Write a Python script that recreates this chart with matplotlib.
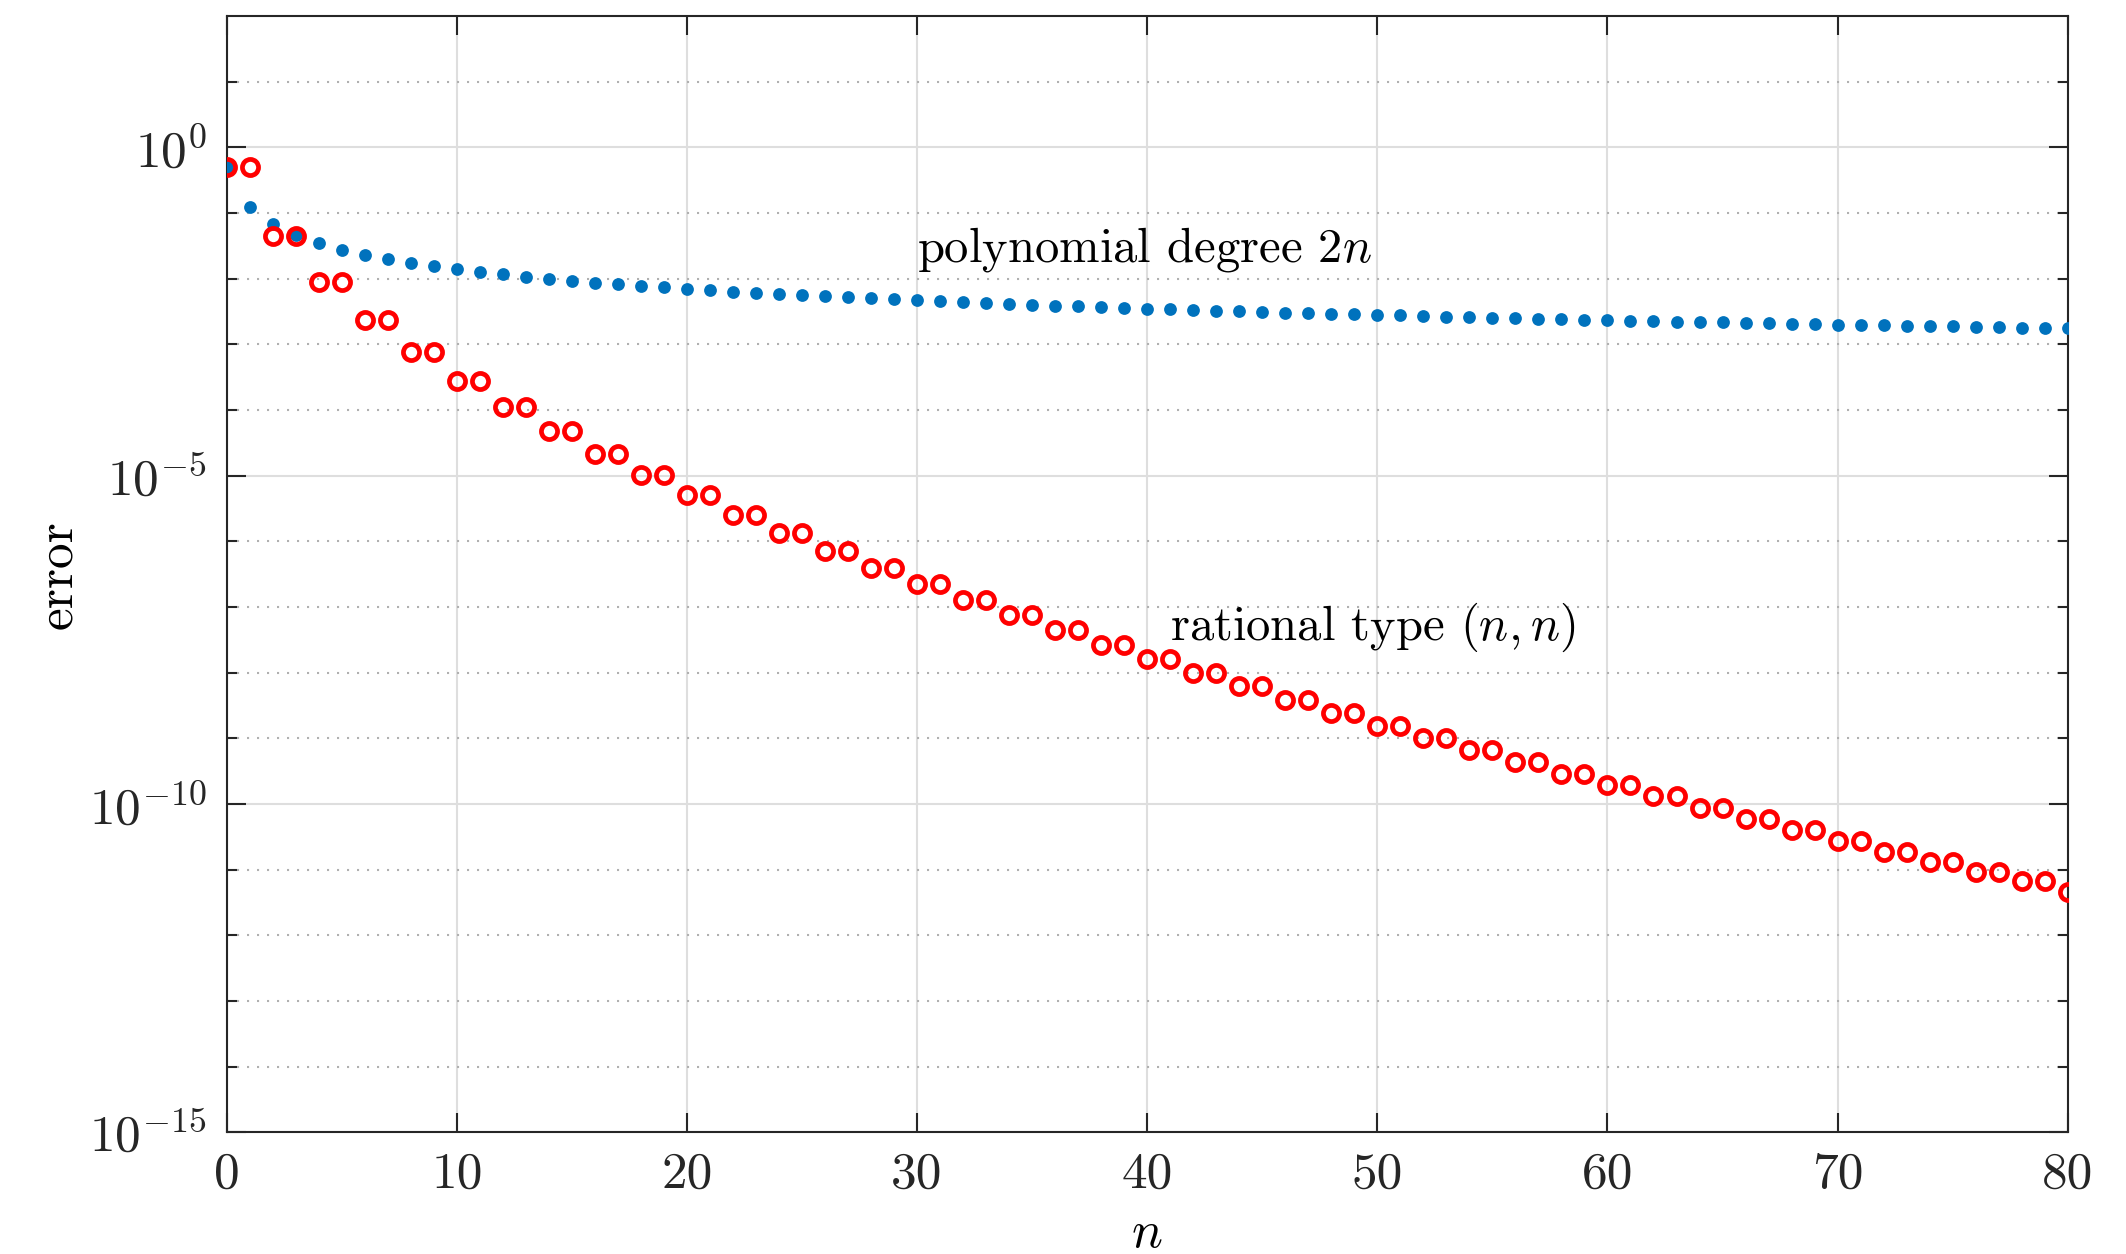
import matplotlib
matplotlib.use("Agg")
import matplotlib.pyplot as plt
from matplotlib.ticker import FixedLocator, NullFormatter

# best approximation errors for |x| on [-1, 1]
n_vals = list(range(0, 81))

poly_err = [
    0.5, 0.125, 0.0683, 0.0459, 0.0346, 0.0277, 0.0232, 0.0199, 0.0174, 0.0155,
    0.0139, 0.01267, 0.01162, 0.01073, 0.00997, 0.00931, 0.00873, 0.00822, 0.00776, 0.00736,
    0.00699, 0.00666, 0.00636, 0.00608, 0.00583, 0.00560, 0.00538, 0.00518, 0.00500, 0.00483,
    0.00467, 0.00452, 0.00437, 0.00424, 0.00412, 0.00400, 0.00389, 0.00378, 0.00368, 0.00359,
    0.00350, 0.00341, 0.00333, 0.00326, 0.00318, 0.00311, 0.00304, 0.00298, 0.00292, 0.00286,
    0.00280, 0.00275, 0.00269, 0.00264, 0.00259, 0.00255, 0.00250, 0.00246, 0.00242, 0.00237,
    0.00233, 0.00230, 0.00226, 0.00222, 0.00219, 0.00216, 0.00212, 0.00209, 0.00206, 0.00203,
    0.00200, 0.00197, 0.00195, 0.00192, 0.00189, 0.00187, 0.00184, 0.00182, 0.00180, 0.00177,
    0.00175,
]

rat_err = [
    0.5, 0.5, 4.52e-2, 4.52e-2, 8.79e-3, 8.79e-3, 2.35e-3, 2.35e-3, 7.6e-4, 7.6e-4,
    2.79e-4, 2.79e-4, 1.12e-4, 1.12e-4, 4.8e-5, 4.8e-5, 2.14e-5, 2.14e-5, 1.02e-5, 1.02e-5,
    4.99e-6, 4.99e-6, 2.54e-6, 2.54e-6, 1.33e-6, 1.33e-6, 7.17e-7, 7.17e-7, 3.95e-7, 3.95e-7,
    2.25e-7, 2.25e-7, 1.29e-7, 1.29e-7, 7.42e-8, 7.42e-8, 4.5e-8, 4.5e-8, 2.65e-8, 2.65e-8,
    1.62e-8, 1.62e-8, 9.84e-9, 9.84e-9, 6.15e-9, 6.15e-9, 3.85e-9, 3.85e-9, 2.42e-9, 2.42e-9,
    1.56e-9, 1.56e-9, 1.0e-9, 1.0e-9, 6.6e-10, 6.6e-10, 4.34e-10, 4.34e-10, 2.9e-10, 2.9e-10,
    1.91e-10, 1.91e-10, 1.30e-10, 1.30e-10, 8.8e-11, 8.8e-11, 5.93e-11, 5.93e-11, 4.03e-11, 4.03e-11,
    2.77e-11, 2.77e-11, 1.88e-11, 1.88e-11, 1.32e-11, 1.32e-11, 9.3e-12, 9.3e-12, 6.6e-12, 6.6e-12,
    4.5e-12,
]

x_ticks = [0, 10, 20, 30, 40, 50, 60, 70, 80]
y_ticks = [1e0, 1e-5, 1e-10, 1e-15]
y_tick_labels = [r"$10^{0}$", r"$10^{-5}$", r"$10^{-10}$", r"$10^{-15}$"]
y_minor = [10.0 ** k for k in range(-14, 2) if k % 5 != 0]

plt.rcParams["font.family"] = "serif"
plt.rcParams["font.serif"] = ["cmr10", "DejaVu Serif"]
plt.rcParams["mathtext.fontset"] = "cm"
plt.rcParams["axes.unicode_minus"] = False

fig = plt.figure(figsize=(10.63, 6.27), dpi=200)
ax = fig.add_axes([0.1066, 0.0971, 0.866, 0.8901])

ax.semilogy(n_vals, poly_err, "o", color="#0072BD", markersize=4.6,
            markeredgewidth=0, zorder=3)
ax.semilogy(n_vals, rat_err, "o", color="red", markerfacecolor="none",
            markersize=5.8, markeredgewidth=1.7, zorder=4)

ax.set_xlim(0, 80)
ax.set_ylim(1e-15, 1e2)
ax.set_xticks(x_ticks)
ax.set_yticks(y_ticks)
ax.set_yticklabels(y_tick_labels)
ax.yaxis.set_minor_locator(FixedLocator(y_minor))
ax.yaxis.set_minor_formatter(NullFormatter())

ax.tick_params(which="both", direction="in", top=True, right=True,
               width=0.75, color="#262626", labelsize=18.5, labelcolor="#262626")
ax.tick_params(which="major", length=6.8, pad=7)
ax.tick_params(which="minor", length=3.6)

ax.grid(True, which="major", color="#dedede", linewidth=0.75, linestyle="-")
ax.grid(True, which="minor", axis="y", color="#b0b0b0", linewidth=0.75,
        linestyle=(0, (1, 3.8)))
ax.set_axisbelow(True)

for sp in ax.spines.values():
    sp.set_color("#262626")
    sp.set_linewidth(0.75)

ax.set_xlabel(r"$n$", fontsize=18.5, labelpad=5)
ax.set_ylabel("error", fontsize=18.5, labelpad=3)

ax.text(30.0, 0.0183, r"polynomial degree $2n$", fontsize=17.5, va="baseline")
ax.text(41.0, 3.14e-8, r"rational type $(n,n)$", fontsize=17.5, va="baseline")

fig.savefig("out.png", dpi=200)
